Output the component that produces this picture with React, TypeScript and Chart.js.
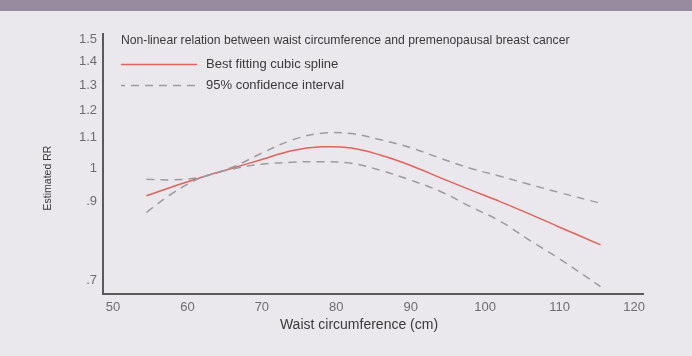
import React, { useEffect, useRef } from 'react';
import { Chart, registerables } from 'chart.js';

Chart.register(...registerables);

// Waist circumference (cm)
const waist = [54.5, 58, 62, 66, 70, 74, 78, 82, 86, 90, 94, 98, 102, 106, 110, 115.5];
// Best fitting cubic spline (estimated RR)
const spline = [0.916, 0.942, 0.972, 0.999, 1.027, 1.056, 1.069, 1.065, 1.041, 1.008, 0.969, 0.933, 0.899, 0.864, 0.829, 0.784];
// 95% confidence interval
const upperCI = [0.965, 0.963, 0.972, 1.002, 1.048, 1.092, 1.116, 1.115, 1.093, 1.066, 1.031, 0.999, 0.974, 0.949, 0.925, 0.894];
const lowerCI = [0.869, 0.923, 0.971, 0.996, 1.012, 1.018, 1.020, 1.015, 0.992, 0.962, 0.928, 0.885, 0.845, 0.795, 0.750, 0.687];

const xTicks = [50, 60, 70, 80, 90, 100, 110, 120];
const yTicks = [0.7, 0.9, 1, 1.1, 1.2, 1.3, 1.4, 1.5];

const chartTitle = 'Non-linear relation between waist circumference and premenopausal breast cancer';
const legendSpline = 'Best fitting cubic spline';
const legendCI = '95% confidence interval';
const xTitle = 'Waist circumference (cm)';
const yTitle = 'Estimated RR';

const RED = '#e2625c';
const GREY = '#9d9ba2';
const FONT = "'Liberation Sans', Arial, sans-serif";

const decor = {
  id: 'decor',
  beforeDraw(chart: any) {
    const { ctx, width, height } = chart;
    ctx.save();
    ctx.fillStyle = '#ebe8ed';
    ctx.fillRect(0, 0, width, height);
    ctx.fillStyle = '#978b9f';
    ctx.fillRect(0, 0, width, 11);
    ctx.restore();
  },
  afterDraw(chart: any) {
    const { ctx, chartArea } = chart;
    const L = chartArea.left;
    ctx.save();
    // title
    ctx.fillStyle = '#3a3a3a';
    ctx.font = `12.2px ${FONT}`;
    ctx.textBaseline = 'middle';
    ctx.textAlign = 'left';
    ctx.fillText(chartTitle, L + 18, 41);
    // legend
    ctx.font = `13px ${FONT}`;
    ctx.lineWidth = 1.4;
    ctx.strokeStyle = RED;
    ctx.beginPath();
    ctx.moveTo(L + 18, 64.5);
    ctx.lineTo(L + 94, 64.5);
    ctx.stroke();
    ctx.fillText(legendSpline, L + 103, 64.5);
    ctx.strokeStyle = GREY;
    ctx.setLineDash([8, 6]);
    ctx.lineDashOffset = 4;
    ctx.beginPath();
    ctx.moveTo(L + 18, 85.5);
    ctx.lineTo(L + 94, 85.5);
    ctx.stroke();
    ctx.setLineDash([]);
    ctx.fillText(legendCI, L + 103, 85.5);
    // axis titles
    ctx.fillStyle = '#3a3a3a';
    ctx.font = `14px ${FONT}`;
    ctx.textAlign = 'center';
    ctx.fillText(xTitle, 359, 325);
    ctx.translate(48, 178);
    ctx.rotate(-Math.PI / 2);
    ctx.font = `10.5px ${FONT}`;
    ctx.fillText(yTitle, 0, 0);
    ctx.restore();
  },
};

export default function App() {
  const ref = useRef<HTMLCanvasElement | null>(null);
  useEffect(() => {
    if (!ref.current) return;
    const mk = (arr: number[]) => waist.map((x, i) => ({ x, y: arr[i] }));
    const common = { pointRadius: 0, fill: false, tension: 0.4, borderWidth: 1.5 };
    const chart = new Chart(ref.current, {
      type: 'line',
      data: {
        datasets: [
          { label: 'upper', data: mk(upperCI), borderColor: GREY, borderDash: [8, 6], ...common },
          { label: 'lower', data: mk(lowerCI), borderColor: GREY, borderDash: [8, 6], ...common },
          { label: 'spline', data: mk(spline), borderColor: RED, ...common },
        ],
      },
      options: {
        animation: false,
        responsive: false,
        events: [],
        layout: { padding: { left: 0, top: 34, right: 49, bottom: 0 } },
        plugins: { legend: { display: false }, tooltip: { enabled: false }, title: { display: false } },
        scales: {
          x: {
            type: 'linear',
            min: 48.66,
            max: 121.2,
            bounds: 'data',
            afterBuildTicks: (s: any) => {
              s.ticks = xTicks.map((v) => ({ value: v }));
            },
            afterFit: (s: any) => {
              s.height = 62;
            },
            grid: { display: false, drawTicks: false },
            border: { display: true, color: '#5a5a5a', width: 2 },
            ticks: { color: '#6e6e6e', font: { family: FONT, size: 13 }, padding: 6, maxRotation: 0, autoSkip: false },
          },
          y: {
            type: 'logarithmic',
            min: 0.671,
            max: 1.528,
            bounds: 'data',
            afterBuildTicks: (s: any) => {
              s.ticks = yTicks.map((v) => ({ value: v }));
            },
            afterFit: (s: any) => {
              s.width = 103;
            },
            grid: { display: false, drawTicks: false },
            border: { display: true, color: '#5a5a5a', width: 2 },
            ticks: {
              color: '#6e6e6e',
              font: { family: FONT, size: 13 },
              padding: 6,
              autoSkip: false,
              callback: (v: any) => {
                const n = Number(v);
                return n < 1 ? String(n).replace(/^0/, '') : String(n);
              },
            },
          },
        },
      },
      plugins: [decor],
    } as any);
    return () => chart.destroy();
  }, []);
  return (
    <div style={{ position: 'fixed', left: 0, top: 0, width: 692, height: 356 }}>
      <canvas ref={ref} width={692} height={356} style={{ display: 'block', width: 692, height: 356 }} />
    </div>
  );
}
